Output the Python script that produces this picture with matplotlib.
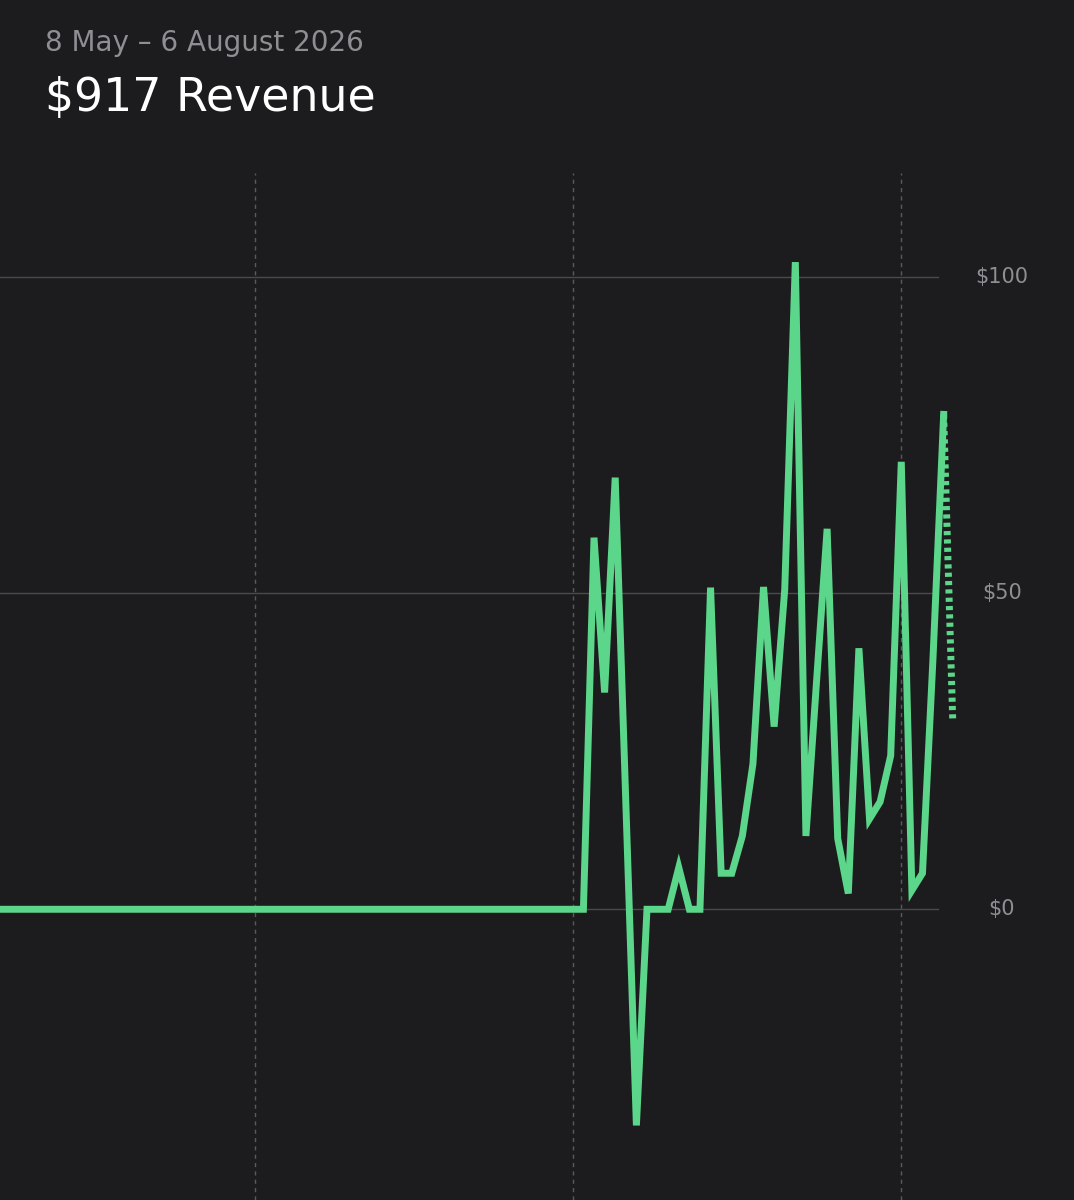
import matplotlib
matplotlib.use("Agg")
import matplotlib.pyplot as plt
import numpy as np

days = np.arange(91)  # 8 May .. 6 Aug 2026
vals = [0]*55 + [0, 58.8, 34.3, 68.3, 17, -34.2, 0, 0, 0, 6.6, 0, 0, 50.9, 5.7, 5.7,
                 11.6, 23, 51, 28.9, 50.6, 102.4, 11.6, 36, 60.2, 11.2, 2.5, 41.3, 14.3,
                 17, 24.3, 70.8, 3, 5.7, 40, 78.3, 30.2]
month_starts = [24, 54, 85]  # 1 Jun, 1 Jul, 1 Aug
yticks = [0, 50, 100]
ylabels = ["$0", "$50", "$100"]

bg = "#1c1c1e"
green = "#5cd68a"
fig = plt.figure(figsize=(10.74, 12), dpi=100, facecolor=bg)
ax = fig.add_axes([0, 0, 1, 1 - 173/1200])
ax.set_facecolor(bg)
ax.set_xlim(-0.06, 101.3)
ax.set_ylim(-46.0, 116.5)
for s in ax.spines.values():
    s.set_visible(False)
ax.set_xticks([]); ax.set_yticks([])

for m in month_starts:
    ax.axvline(m, color="#5a5a5e", lw=1, ls=(0, (3, 3)))
for t, l in zip(yticks, ylabels):
    ax.plot([-1, 88.5], [t, t], color="#4a4a4e", lw=1)
    ax.text(94.5, t, l, color="#8e8e93", fontsize=15, ha="center", va="center")

ax.plot(days[:90], vals[:90], color=green, lw=5, solid_joinstyle="miter")
ax.plot(days[88:91] * 0 + [88.0, 89.05, 89.9], vals[88:91], alpha=0)  # no-op placeholder
ax.plot(days[89:91] + np.array([0, -0.15]), vals[89:91], color=green, lw=5, ls=(0, (0.6, 0.6)))

fig.text(45/1074, 1 - 43/1200, "8 May – 6 August 2026", color="#8e8e93", fontsize=20, va="center")
fig.text(45/1074, 1 - 98/1200, "$917 Revenue", color="white", fontsize=33, va="center", fontweight="medium")
fig.savefig("out.png", dpi=100, facecolor=bg)
